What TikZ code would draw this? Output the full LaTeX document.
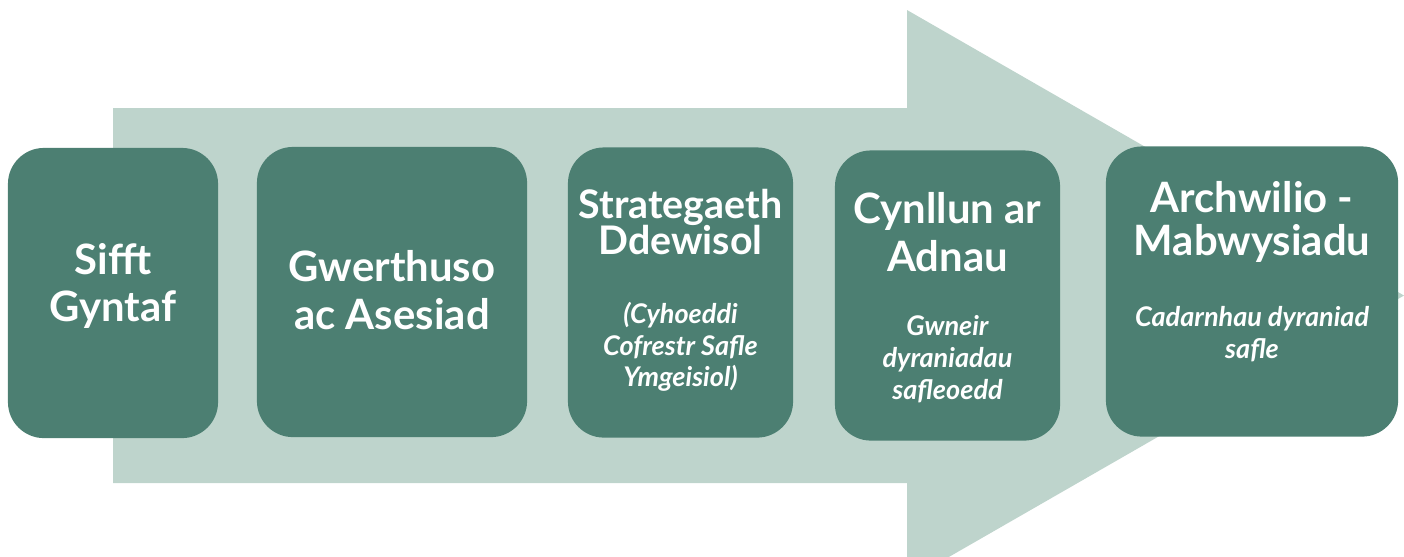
\documentclass[tikz,border=0pt]{standalone}
\usepackage{fontspec}
\setmainfont{Lato}
\usetikzlibrary{calc}
\definecolor{stagegreen}{RGB}{76,127,114}
\definecolor{arrowgreen}{RGB}{190,212,204}
\tikzset{
  stagebox/.style={fill=stagegreen, rounded corners=0.36cm, inner sep=0pt, minimum height=2.90cm},
  stagetitle/.style={text=white, align=center, inner sep=0pt, font=\bfseries\fontsize{11.9}{13.6}\selectfont},
  stagenote/.style={text=white, align=center, inner sep=0pt, font=\itshape\bfseries\fontsize{7.7}{9}\selectfont}
}
\begin{document}
\begin{tikzpicture}[x=0.01cm, y=-0.01cm]
\useasboundingbox (0,0) rectangle (1404,556);
\clip (0,0) rectangle (1404,556);
% big arrow behind the stages
\fill[arrowgreen] (113,108) -- (907,108) -- (907,10) -- (1404,295.5) -- (907,581) -- (907,483) -- (113,483) -- cycle;

% stages
\node[stagebox, minimum width=2.10cm] (b1) at (113,293) {};
\node[stagebox, minimum width=2.70cm] (b2) at (392,292) {};
\node[stagebox, minimum width=2.25cm] (b3) at (680.5,292.5) {};
\node[stagebox, minimum width=2.25cm] (b4) at (947.5,295.5) {};
\node[stagebox, minimum width=2.92cm] (b5) at (1252,291.5) {};

\node[stagetitle] (t1) at (113,286) {Sifft\\Gyntaf};
\node[stagetitle] (t2) at (392,290) {Gwerthuso\\ac Asesiad};
\node[stagetitle, font=\bfseries\fontsize{11.2}{10.4}\selectfont] (t3) at (680.5,222) {Strategaeth\\Ddewisol};
\node[stagetitle] (t4) at (947.5,232) {Cynllun ar\\Adnau};
\node[stagetitle, font=\bfseries\fontsize{11.9}{12}\selectfont] (t5) at (1252,222) {Archwilio -\\Mabwysiadu};

\node[stagenote] (n3) at (680.5,347) {(Cyhoeddi\\Cofrestr Safle\\Ymgeisiol)};
\node[stagenote] (n4) at (947.5,359) {Gwneir\\dyraniadau\\safleoedd};
\node[stagenote] (n5) at (1252,334) {Cadarnhau dyraniad\\safle};

\end{tikzpicture}
\end{document}
